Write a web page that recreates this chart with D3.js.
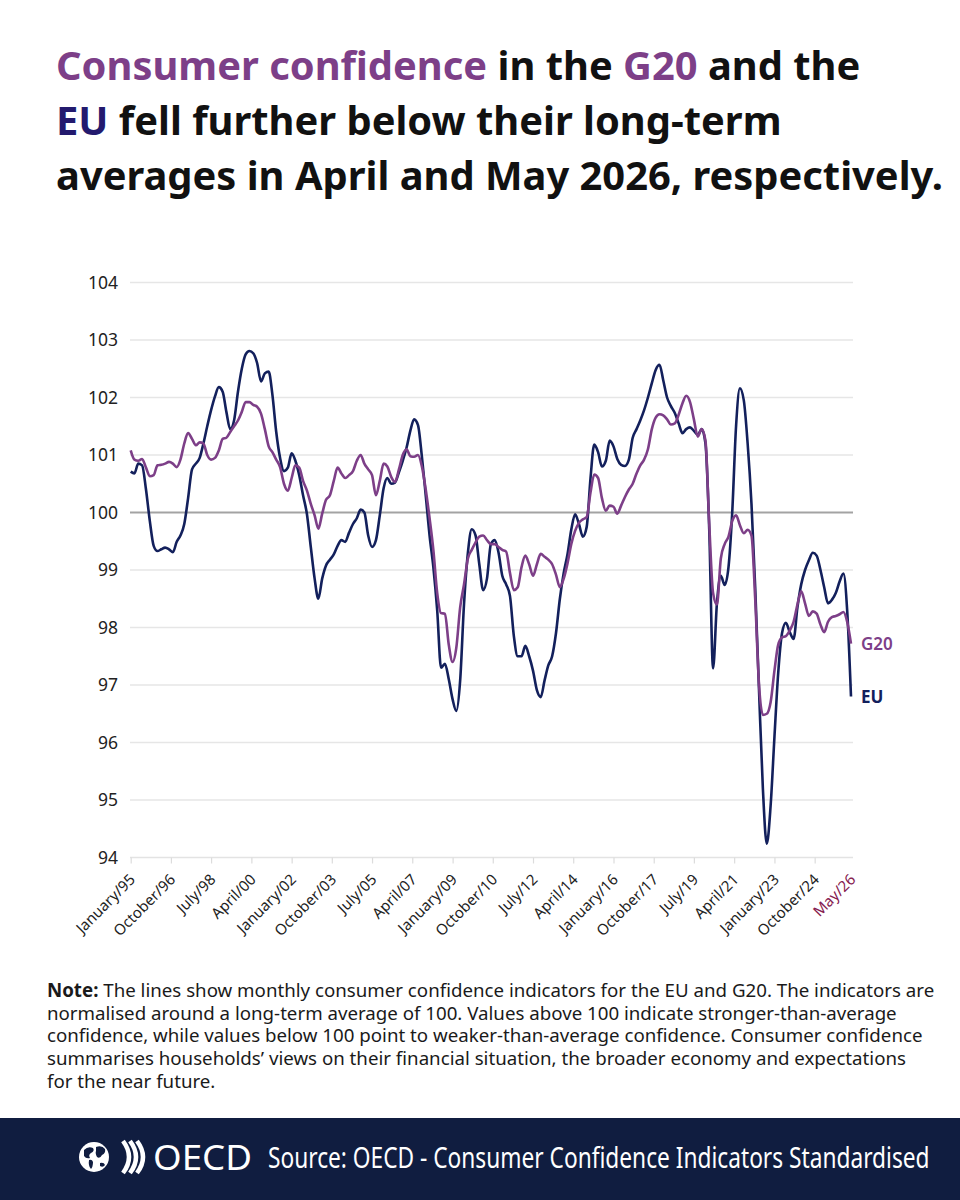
<!DOCTYPE html>
<html>
<head>
<meta charset="utf-8">
<script src="https://cdn.jsdelivr.net/npm/d3@7"></script>
<style>
  body { margin: 0; background: #fff; }
  svg { display: block; }
</style>
</head>
<body>
<svg id="chart" width="960" height="1200"></svg>
<script>
// bi-monthly readings (Jan, Mar, May, Jul, Sep, Nov), January 1995 to May 2026
const firstMonth = '1995-01';
const lastMonth = '2026-05';

const euValues = [
  100.71, 100.68, 100.85, 100.82, 100.40, 99.85,   // 1995
  99.42, 99.33, 99.36, 99.39, 99.36, 99.31,        // 1996
  99.49, 99.60, 99.80, 100.25, 100.75, 100.85,     // 1997
  100.95, 101.20, 101.50, 101.78, 102.02, 102.18,  // 1998
  102.10, 101.75, 101.45, 101.60, 102.10, 102.50,  // 1999
  102.75, 102.81, 102.77, 102.60, 102.28, 102.42,  // 2000
  102.45, 102.05, 101.40, 100.95, 100.72, 100.78,  // 2001
  101.03, 100.90, 100.65, 100.30, 99.97, 99.40,    // 2002
  98.85, 98.50, 98.85, 99.08, 99.18, 99.27,        // 2003
  99.42, 99.52, 99.49, 99.65, 99.80, 99.90,        // 2004
  100.05, 100.00, 99.60, 99.40, 99.52, 99.95,      // 2005
  100.42, 100.60, 100.50, 100.52, 100.70, 100.90,  // 2006
  101.13, 101.42, 101.62, 101.52, 100.97, 100.30,  // 2007
  99.60, 99.05, 98.30, 97.30, 97.37, 97.10,        // 2008
  96.75, 96.55, 97.08, 98.40, 99.30, 99.71,        // 2009
  99.60, 99.10, 98.65, 98.85, 99.45, 99.52,        // 2010
  99.30, 98.90, 98.75, 98.55, 97.85, 97.50,        // 2011
  97.50, 97.68, 97.50, 97.25, 96.91, 96.79,        // 2012
  97.08, 97.34, 97.50, 97.90, 98.50, 98.95,        // 2013
  99.28, 99.70, 99.97, 99.80, 99.58, 99.75,        // 2014
  100.60, 101.18, 101.05, 100.80, 100.90, 101.25,  // 2015
  101.15, 100.93, 100.83, 100.81, 100.92, 101.30,  // 2016
  101.45, 101.60, 101.78, 102.00, 102.25, 102.48,  // 2017
  102.57, 102.30, 102.00, 101.85, 101.73, 101.55,  // 2018
  101.38, 101.45, 101.48, 101.42, 101.35, 101.45,  // 2019
  101.20, 99.70, 97.29, 98.42, 98.90, 98.74,       // 2020
  99.05, 100.00, 101.50, 102.16, 101.95, 101.20,   // 2021
  100.15, 98.70, 96.90, 95.20, 94.24, 94.90,       // 2022
  96.10, 97.20, 97.90, 98.08, 97.92, 97.80,        // 2023
  98.35, 98.75, 99.00, 99.17, 99.30, 99.25,        // 2024
  99.00, 98.70, 98.42, 98.48, 98.60, 98.80,        // 2025
  98.94, 98.30, 96.80                              // 2026
];

const g20Values = [
  101.08, 100.92, 100.90, 100.93, 100.78, 100.63,  // 1995
  100.65, 100.82, 100.83, 100.85, 100.88, 100.85,  // 1996
  100.79, 100.92, 101.20, 101.38, 101.28, 101.17,  // 1997
  101.22, 101.20, 101.00, 100.92, 100.95, 101.08,  // 1998
  101.28, 101.30, 101.40, 101.50, 101.60, 101.75,  // 1999
  101.92, 101.92, 101.87, 101.84, 101.72, 101.45,  // 2000
  101.15, 101.05, 100.92, 100.79, 100.50, 100.38,  // 2001
  100.60, 100.82, 100.78, 100.55, 100.38, 100.15,  // 2002
  99.95, 99.72, 99.98, 100.22, 100.30, 100.55,     // 2003
  100.78, 100.68, 100.60, 100.65, 100.72, 100.90,  // 2004
  101.00, 100.85, 100.75, 100.65, 100.30, 100.55,  // 2005
  100.85, 100.80, 100.62, 100.53, 100.75, 101.00,  // 2006
  101.10, 100.98, 100.97, 101.00, 100.80, 100.40,  // 2007
  99.90, 99.35, 98.60, 98.25, 98.24, 97.70,        // 2008
  97.40, 97.65, 98.35, 98.75, 99.20, 99.35,        // 2009
  99.48, 99.58, 99.60, 99.52, 99.45, 99.45,        // 2010
  99.40, 99.35, 99.32, 98.95, 98.65, 98.70,        // 2011
  99.05, 99.25, 99.10, 98.90, 99.10, 99.28,        // 2012
  99.23, 99.18, 99.10, 98.92, 98.70, 98.85,        // 2013
  99.12, 99.45, 99.68, 99.82, 99.88, 99.92,        // 2014
  100.35, 100.66, 100.60, 100.25, 100.03, 100.12,  // 2015
  100.10, 99.98, 100.12, 100.27, 100.40, 100.50,   // 2016
  100.68, 100.82, 100.92, 101.10, 101.45, 101.65,  // 2017
  101.71, 101.69, 101.62, 101.53, 101.55, 101.70,  // 2018
  101.90, 102.03, 101.92, 101.62, 101.32, 101.45,  // 2019
  101.25, 99.80, 98.60, 98.40, 99.20, 99.45,       // 2020
  99.58, 99.85, 99.95, 99.78, 99.64, 99.70,        // 2021
  99.60, 98.50, 97.00, 96.48, 96.50, 96.70,        // 2022
  97.25, 97.70, 97.83, 97.85, 97.95, 98.10,        // 2023
  98.40, 98.63, 98.42, 98.20, 98.28, 98.24,        // 2024
  98.05, 97.92, 98.10, 98.18, 98.20, 98.23,        // 2025
  98.27, 98.10, 97.72                              // 2026
];

const tickMonths = ['1995-01','1996-10','1998-07','2000-04','2002-01','2003-10','2005-07','2007-04',
  '2009-01','2010-10','2012-07','2014-04','2016-01','2017-10','2019-07','2021-04','2023-01','2024-10','2026-05'];
const tickLabels = ['January/95','October/96','July/98','April/00','January/02','October/03','July/05','April/07',
  'January/09','October/10','July/12','April/14','January/16','October/17','July/19','April/21','January/23','October/24','May/26'];

const purple = '#7d3f88';
const navy = '#13205c';
const titleNavy = '#231a6e';
const ink = '#111111';

const parseMonth = d3.timeParse('%Y-%m');
const dates = d3.timeMonths(parseMonth(firstMonth), d3.timeMonth.offset(parseMonth(lastMonth), 1), 2);

const svg = d3.select('#chart');
svg.append('rect').attr('width', 960).attr('height', 1200).attr('fill', '#fff');

// ---- title
const titleLines = [
  [['Consumer confidence', purple], [' in the ', ink], ['G20', purple], [' and the', ink]],
  [['EU', titleNavy], [' fell further below their long-term', ink]],
  [['averages in April and May 2026, respectively.', ink]]
];
const title = svg.append('g')
  .attr('font-family', '"Noto Sans", sans-serif')
  .attr('font-weight', 700)
  .attr('font-size', 40);
titleLines.forEach((parts, i) => {
  const t = title.append('text').attr('x', 56).attr('y', 80 + i * 55);
  parts.forEach(p => t.append('tspan').attr('fill', p[1]).text(p[0]));
});
// fit the longest line to the width it has in the picture
const w3 = title.selectAll('text').nodes()[2].getComputedTextLength();
title.attr('font-size', 40 * 887 / w3);

// ---- scales
const x = d3.scaleTime()
  .domain([dates[0], dates[dates.length - 1]])
  .range([130.7, 851]);
const y = d3.scaleLinear()
  .domain([94, 104])
  .range([857.5, 282.5]);
const x0 = 130, x1 = 853;

// gridlines
svg.append('g').selectAll('line')
  .data(y.ticks(10).filter(d => d !== 94 && d !== 100))
  .join('line')
  .attr('x1', x0).attr('x2', x1)
  .attr('y1', d => y(d)).attr('y2', d => y(d))
  .attr('stroke', '#e6e6e6').attr('stroke-width', 1.3);

// y axis labels
const yAxis = svg.append('g')
  .attr('transform', 'translate(' + x0 + ',0)')
  .call(d3.axisLeft(y).ticks(10).tickSize(0).tickPadding(12));
yAxis.select('.domain').remove();
yAxis.selectAll('text')
  .attr('font-family', '"Noto Sans", sans-serif')
  .attr('font-size', 17.5)
  .attr('fill', '#222');

// x axis
const tickDates = tickMonths.map(parseMonth);
const xAxis = svg.append('g')
  .attr('transform', 'translate(0,' + y(94) + ')')
  .call(d3.axisBottom(x).tickValues(tickDates).tickSize(6).tickFormat((d, i) => tickLabels[i]));
xAxis.select('.domain')
  .attr('d', 'M' + x0 + ',0H' + x1)
  .attr('stroke', '#e3e3e3').attr('stroke-width', 1.3);
xAxis.selectAll('.tick line').attr('stroke', '#dcdcdc').attr('stroke-width', 1.2);
xAxis.selectAll('.tick').filter((d, i) => i === tickDates.length - 1).select('line').remove();
xAxis.selectAll('text')
  .attr('x', 0).attr('y', 0).attr('dy', 0)
  .attr('transform', 'translate(5,23) rotate(-45)')
  .style('text-anchor', 'end')
  .attr('font-family', '"Noto Sans", sans-serif')
  .attr('font-size', 15)
  .attr('fill', (d, i) => i === tickDates.length - 1 ? '#86204f' : '#222');

// long-term average
svg.append('line')
  .attr('x1', x0).attr('x2', x1)
  .attr('y1', y(100)).attr('y2', y(100))
  .attr('stroke', '#a3a3a3').attr('stroke-width', 1.8);

// ---- lines
const line = d3.line()
  .x((d, i) => x(dates[i]))
  .y(d => y(d))
  .curve(d3.curveMonotoneX);

svg.append('path')
  .datum(euValues)
  .attr('d', line)
  .attr('fill', 'none')
  .attr('stroke', navy)
  .attr('stroke-width', 2.6)
  .attr('stroke-linejoin', 'round');

svg.append('path')
  .datum(g20Values)
  .attr('d', line)
  .attr('fill', 'none')
  .attr('stroke', purple)
  .attr('stroke-width', 2.6)
  .attr('stroke-linejoin', 'round');

// end labels
const lastDate = dates[dates.length - 1];
svg.append('text')
  .attr('x', x(lastDate) + 10).attr('y', y(g20Values[g20Values.length - 1]) + 6)
  .attr('font-family', '"Noto Sans", sans-serif').attr('font-weight', 600).attr('font-size', 17)
  .attr('fill', purple).text('G20');
svg.append('text')
  .attr('x', x(lastDate) + 10).attr('y', y(euValues[euValues.length - 1]) + 6)
  .attr('font-family', '"Noto Sans", sans-serif').attr('font-weight', 700).attr('font-size', 17)
  .attr('fill', navy).text('EU');

// ---- note
const noteLines = [
  'The lines show monthly consumer confidence indicators for the EU and G20. The indicators are',
  'normalised around a long-term average of 100. Values above 100 indicate stronger-than-average',
  'confidence, while values below 100 point to weaker-than-average confidence. Consumer confidence',
  'summarises households\u2019 views on their financial situation, the broader economy and expectations',
  'for the near future.'
];
const note = svg.append('g')
  .attr('font-family', '"Noto Sans", sans-serif')
  .attr('font-size', 17.5)
  .attr('fill', '#1a1a1a');
noteLines.forEach((s, i) => {
  const t = note.append('text').attr('x', 47).attr('y', 997 + i * 22.7);
  if (i === 0) {
    t.append('tspan').attr('font-weight', 700).text('Note:');
    t.append('tspan').text(' ' + s);
  } else {
    t.text(s);
  }
});
const nw = note.selectAll('text').nodes()[0].getComputedTextLength();
note.attr('font-size', 17.5 * 888 / nw);

// ---- footer
svg.append('rect')
  .attr('x', 0).attr('y', 1118).attr('width', 960).attr('height', 82)
  .attr('fill', '#101d40');

const logo = svg.append('g');
logo.append('circle').attr('cx', 94).attr('cy', 1157).attr('r', 15).attr('fill', '#fff');
// rough continents
const land = [
  'M84,1150 q4,-4 9,-2 q2,3 -2,5 q-3,2 -1,5 q-4,1 -6,-2 z',
  'M96,1147 q6,-2 9,2 q1,4 -3,6 q-2,4 -5,2 q-2,-4 -1,-6 z',
  'M89,1160 q3,-1 4,2 q0,5 -2,7 q-3,-3 -2,-9 z',
  'M100,1163 q4,-1 5,2 q-2,3 -5,1 z'
];
logo.selectAll('path.land').data(land).join('path')
  .attr('class', 'land').attr('d', d => d).attr('fill', '#101d40');
[0, 7, 14].forEach(dx => {
  logo.append('path')
    .attr('d', 'M' + (123 + dx) + ',1141 Q' + (135 + dx) + ',1157 ' + (123 + dx) + ',1173')
    .attr('fill', 'none').attr('stroke', '#fff').attr('stroke-width', 4.5)
    .attr('stroke-linecap', 'butt');
});
const oecd = logo.append('text')
  .attr('font-family', '"Noto Sans", sans-serif')
  .attr('font-size', 34)
  .attr('fill', '#fff')
  .text('OECD');
const ow = oecd.node().getComputedTextLength();
oecd.attr('transform', 'translate(153,1170) scale(' + (99 / ow) + ',1)');

// source line: condensed by a horizontal scale so it keeps its height
const source = svg.append('text')
  .attr('font-family', '"Liberation Sans Narrow", "Noto Sans", sans-serif')
  .attr('font-size', 29)
  .attr('fill', '#fff')
  .text('Source: OECD - Consumer Confidence Indicators Standardised');
const sw = source.node().getComputedTextLength();
source.attr('transform', 'translate(268,1168) scale(' + (662 / sw) + ',1)');
</script>
</body>
</html>
